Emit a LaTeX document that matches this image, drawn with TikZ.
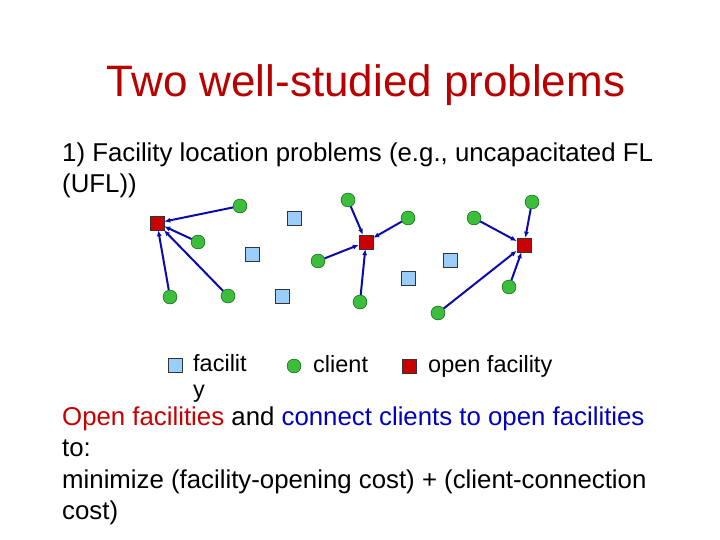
\documentclass[tikz,border=0pt]{standalone}
\usepackage{fontspec}
\setmainfont{Liberation Sans}
\usetikzlibrary{arrows.meta}

\definecolor{titlered}{RGB}{185,0,0}
\definecolor{openred}{RGB}{200,0,0}
\definecolor{linkblue}{RGB}{0,0,190}
\definecolor{arrowblue}{RGB}{10,10,170}
\definecolor{clientgreen}{RGB}{60,190,60}
\definecolor{facblue}{RGB}{155,205,250}

\tikzset{
  client/.style={circle, inner sep=0pt, minimum size=14pt, fill=clientgreen, draw=black!70!green},
  facility/.style={rectangle, inner sep=0pt, minimum size=14pt, fill=facblue, draw=black!80},
  openfac/.style={rectangle, inner sep=0pt, minimum size=14pt, fill=openred, draw=black!80},
  conn/.style={draw=arrowblue, line width=2pt, -{Latex[length=6pt,width=5pt]}},
  txt/.style={anchor=base west, inner sep=0pt, font=\fontsize{25.8}{30}\selectfont},
  legtxt/.style={anchor=base west, inner sep=0pt, font=\fontsize{23.5}{26}\selectfont}
}

\begin{document}
\begin{tikzpicture}[x=1pt, y=-1pt]
			\useasboundingbox (0,0) rectangle (720,540);
			% title and statement
			\node[anchor=base, inner sep=0pt, text=titlered, font=\fontsize{44}{50}\selectfont](title) at (366,97){Two well-studied problems};
			\node[txt](line1) at (62,162){1) Facility location problems (e.g., uncapacitated FL};
			\node[txt](line2) at (62,193){(UFL))};
			% facilities
			\node[facility](f1) at (294,218){};
			\node[facility](f2) at (252,254){};
			\node[facility](f3) at (282,296){};
			\node[facility](f4) at (408,278){};
			\node[facility](f5) at (450,260){};
			% open facilities
			\node[openfac](o1) at (157,223){};
			\node[openfac](o2) at (366,242){};
			\node[openfac](o3) at (524,245){};
			% clients
			\node[client](c1) at (240,206){};
			\node[client](c2) at (198,242){};
			\node[client](c3) at (170,297){};
			\node[client](c4) at (228,296){};
			\node[client](c5) at (348,200){};
			\node[client](c6) at (408,218){};
			\node[client](c7) at (318,261){};
			\node[client](c8) at (360,302){};
			\node[client](c9) at (474,218){};
			\node[client](c10) at (532,202){};
			\node[client](c11) at (509,287){};
			\node[client](c12) at (438,313){};
			% connections
			\foreach \c in {c1,c2,c3,c4} \draw[conn] (\c) -- (o1);
			\foreach \c in {c5,c6,c7,c8} \draw[conn] (\c) -- (o2);
			\foreach \c in {c9,c10,c11,c12} \draw[conn] (\c) -- (o3);
			% legend
			\node[facility](lf) at (175,365){};
			\node[legtxt](lft) at (193,371){facilit};
			\node[legtxt](lfy) at (193,397){y};
			\node[client](lc) at (294,366){};
			\node[legtxt](lct) at (313,372){client};
			\node[openfac](lo) at (409,366){};
			\node[legtxt](lot) at (428,372){open facility};
			% objective
			\node[txt](obj1) at (62,425){\textcolor{openred}{Open facilities} and \textcolor{linkblue}{connect clients to open facilities}};
			\node[txt](obj2) at (62,456.5){to:};
			\node[txt](obj3) at (62,488){minimize (facility-opening cost) + (client-connection};
			\node[txt](obj4) at (62,519.5){cost)};
\end{tikzpicture}
\end{document}
